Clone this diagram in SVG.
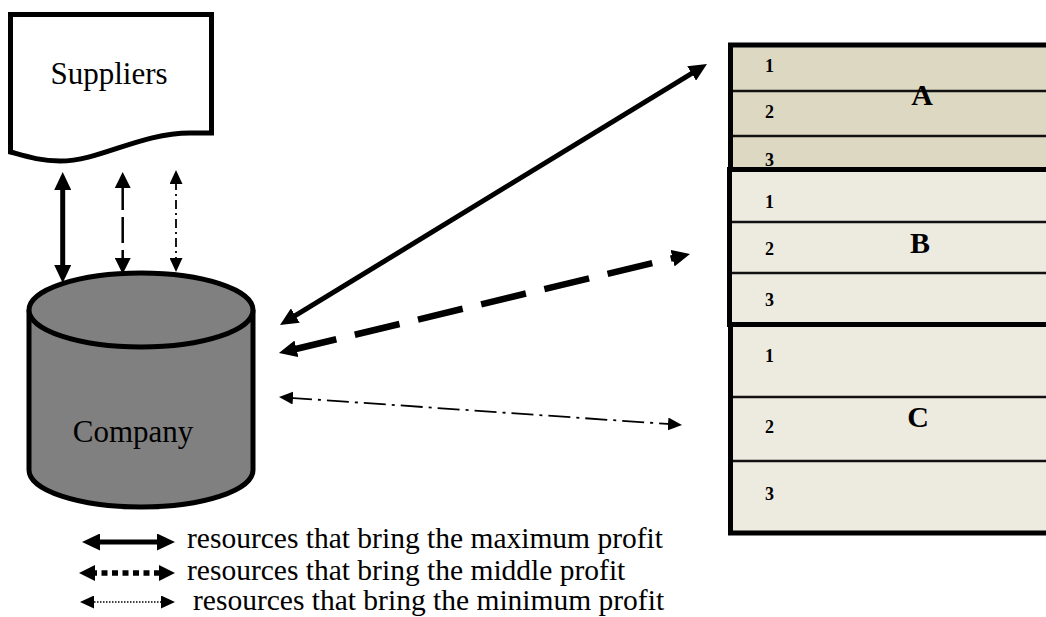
<svg xmlns="http://www.w3.org/2000/svg" width="1046" height="617" viewBox="0 0 1046 617">
<style>
.shape{stroke:#000;stroke-width:5}
.lbl{font-family:"Liberation Serif","Times New Roman",serif;fill:#000}
.big{font-size:31px}
.leg{font-size:29.5px}
.sec{font-size:30px;font-weight:bold}
.num{font-size:18px;font-weight:bold}
.row{stroke:#111;stroke-width:2.5}
.thick{stroke:#000;stroke-width:5;fill:none}
</style>
<defs>
<marker id="hL" viewBox="0 0 18 17" markerWidth="18" markerHeight="17" refX="5" refY="8.5" orient="auto-start-reverse" markerUnits="userSpaceOnUse"><path d="M0,0 L18,8.5 L0,17 z" fill="#000"/></marker>
<marker id="hM" viewBox="0 0 16 16" markerWidth="16" markerHeight="16" refX="4" refY="8" orient="auto-start-reverse" markerUnits="userSpaceOnUse"><path d="M0,0 L16,8 L0,16 z" fill="#000"/></marker>
<marker id="hS" viewBox="0 0 14 13" markerWidth="14" markerHeight="13" refX="3" refY="6.5" orient="auto-start-reverse" markerUnits="userSpaceOnUse"><path d="M0,0 L14,6.5 L0,13 z" fill="#000"/></marker>
</defs>

<g id="suppliers">
<path class="shape" fill="#fff" d="M10.5,14.5 H211.5 V133 H190 C140,133 100,161 60,161 C40,161 25,156 10.5,152 Z"/>
<text class="lbl big" x="109" y="84" text-anchor="middle">Suppliers</text>
</g>

<g id="company">
<path class="shape" fill="#808080" d="M29,310 V470 A112,37 0 0 0 253,470 V310"/>
<ellipse class="shape" fill="#808080" cx="141" cy="310" rx="112" ry="37"/>
<text class="lbl big" x="133" y="442" text-anchor="middle">Company</text>
</g>

<g id="segmentA">
<rect class="shape" fill="#DDD8C2" x="730.5" y="45" width="400" height="124.5"/>
<line class="row" x1="733" y1="91" x2="1046" y2="91"/>
<line class="row" x1="733" y1="136" x2="1046" y2="136"/>
<text class="lbl num" x="765" y="72">1</text>
<text class="lbl num" x="765" y="118">2</text>
<text class="lbl num" x="765" y="166">3</text>
<text class="lbl sec" x="922" y="105" text-anchor="middle">A</text>
</g>

<g id="segmentB">
<rect class="shape" fill="#EDEAE0" x="729.5" y="169.5" width="400" height="155"/>
<line class="row" x1="732" y1="222" x2="1046" y2="222"/>
<line class="row" x1="732" y1="273" x2="1046" y2="273"/>
<text class="lbl num" x="765" y="208">1</text>
<text class="lbl num" x="765" y="255">2</text>
<text class="lbl num" x="765" y="306">3</text>
<text class="lbl sec" x="920" y="253" text-anchor="middle">B</text>
</g>

<g id="segmentC">
<rect class="shape" fill="#EDEAE0" x="730.5" y="324.5" width="400" height="208.5"/>
<line class="row" x1="733" y1="397" x2="1046" y2="397"/>
<line class="row" x1="733" y1="461" x2="1046" y2="461"/>
<text class="lbl num" x="765" y="362">1</text>
<text class="lbl num" x="765" y="433">2</text>
<text class="lbl num" x="765" y="500">3</text>
<text class="lbl sec" x="918" y="427" text-anchor="middle">C</text>
</g>

<g id="connectors" fill="none" stroke="#000">
<line x1="62.7" y1="185" x2="62.7" y2="270" stroke-width="5" marker-start="url(#hL)" marker-end="url(#hL)"/>
<line x1="122.7" y1="184" x2="122.7" y2="262" stroke-width="2.5" stroke-dasharray="26 7" marker-start="url(#hM)" marker-end="url(#hM)"/>
<line x1="176" y1="181" x2="176" y2="261" stroke-width="1.8" stroke-dasharray="9 4 2 4" marker-start="url(#hS)" marker-end="url(#hS)"/>
<line x1="291.1" y1="318.2" x2="695.9" y2="70.8" stroke-width="5" marker-start="url(#hL)" marker-end="url(#hL)"/>
<line x1="291.6" y1="350" x2="677.4" y2="257" stroke-width="6.5" stroke-dasharray="46 19" marker-start="url(#hL)" marker-end="url(#hL)"/>
<line x1="290" y1="397.8" x2="671" y2="424.2" stroke-width="1.8" stroke-dasharray="22 6 3 6" marker-start="url(#hS)" marker-end="url(#hS)"/>
</g>

<g id="legend">
<line x1="95" y1="542" x2="162" y2="542" stroke="#000" stroke-width="5" marker-start="url(#hL)" marker-end="url(#hL)"/>
<line x1="91" y1="573" x2="163" y2="573" stroke="#000" stroke-width="5.5" stroke-dasharray="6 4.5" marker-start="url(#hM)" marker-end="url(#hM)"/>
<line x1="91" y1="602" x2="164" y2="602" stroke="#000" stroke-width="1.5" stroke-dasharray="1.5 1.5" marker-start="url(#hS)" marker-end="url(#hS)"/>
<text class="lbl leg" x="187" y="548">resources that bring the maximum profit</text>
<text class="lbl leg" x="187" y="580">resources that bring the middle profit</text>
<text class="lbl leg" x="193" y="610">resources that bring the minimum profit</text>
</g>
</svg>
